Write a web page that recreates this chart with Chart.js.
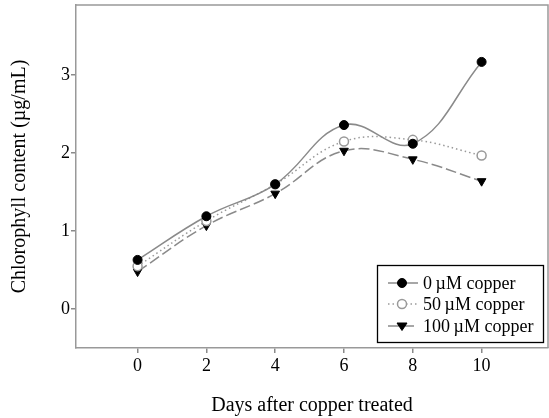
<!DOCTYPE html>
<html><head><meta charset="utf-8">
<script src="https://cdn.jsdelivr.net/npm/chart.js@4"></script>
<style>html,body{margin:0;padding:0;background:#fff}#wrap{width:549px;height:418px}</style>
</head><body><div id="wrap"><canvas id="c"></canvas></div>
<script>
const days = [0, 2, 4, 6, 8, 10];
const copper0 = [0.63, 1.19, 1.60, 2.36, 2.12, 3.17];
const copper50 = [0.55, 1.13, 1.60, 2.15, 2.17, 1.97];
const copper100 = [0.48, 1.07, 1.48, 2.03, 1.92, 1.64];
const seriesNames = ['0\u2009\u00b5M copper', '50\u2009\u00b5M copper', '100\u2009\u00b5M copper'];
const xTicks = [0, 2, 4, 6, 8, 10];
const yTicks = [0, 1, 2, 3];

const FONT = '"Liberation Serif", "Times New Roman", serif';
const GRAY = '#8a8a8a';

function pts(vals){ return days.map((d,i)=>({x:d,y:vals[i]})); }

const framePlugin = {
  id:'frame',
  beforeDatasetsDraw(chart){
    const {ctx, chartArea:a} = chart;
    ctx.save();
    ctx.strokeStyle = '#999';
    ctx.lineWidth = 1.5;
    ctx.beginPath();
    ctx.moveTo(a.left, a.top); ctx.lineTo(a.right, a.top); ctx.lineTo(a.right, a.bottom);
    ctx.stroke();
    ctx.restore();
  }
};

const legendPlugin = {
  id:'boxLegend',
  afterDatasetsDraw(chart){
    const ctx = chart.ctx;
    const bx = 377, by = 265, bw = 166, bh = 77;
    ctx.save();
    ctx.fillStyle = '#fff';
    ctx.fillRect(bx, by, bw, bh);
    ctx.strokeStyle = '#000';
    ctx.lineWidth = 1.3;
    ctx.strokeRect(bx+0.5, by+0.5, bw, bh);
    const rows = [283, 304, 326];
    chart.data.datasets.forEach((ds, i) => {
      const y = rows[i];
      ctx.strokeStyle = ds.borderColor;
      ctx.lineWidth = ds.borderWidth;
      ctx.setLineDash(ds.borderDash || []);
      ctx.beginPath(); ctx.moveTo(388, y); ctx.lineTo(418, y); ctx.stroke();
      ctx.setLineDash([]);
      ctx.fillStyle = ds.pointBackgroundColor;
      ctx.strokeStyle = ds.pointBorderColor;
      ctx.lineWidth = ds.pointBorderWidth;
      ctx.beginPath();
      const r = ds.pointRadius;
      if (ds.pointStyle === 'circle') {
        ctx.arc(402, y, r, 0, Math.PI*2);
      } else {
        ctx.moveTo(402 - r, y - r*0.6); ctx.lineTo(402 + r, y - r*0.6); ctx.lineTo(402, y + r*0.9); ctx.closePath();
      }
      ctx.fill(); ctx.stroke();
      ctx.fillStyle = '#000';
      ctx.font = '18px ' + FONT;
      ctx.textBaseline = 'middle';
      ctx.textAlign = 'left';
      ctx.fillText(ds.label, 423, y + 1);
    });
    ctx.restore();
  }
};

new Chart(document.getElementById('c'), {
  type:'line',
  data:{
    datasets:[
      {label:seriesNames[0], data:pts(copper0), borderColor:GRAY, borderWidth:1.5, tension:0.4,
       pointStyle:'circle', pointRadius:4.5, pointBackgroundColor:'#000', pointBorderColor:'#000', pointBorderWidth:1},
      {label:seriesNames[1], data:pts(copper50), borderColor:'#9a9a9a', borderWidth:1.5, borderDash:[1.5,3], tension:0.4,
       pointStyle:'circle', pointRadius:4.5, pointBackgroundColor:'#fff', pointBorderColor:'#999', pointBorderWidth:1.5},
      {label:seriesNames[2], data:pts(copper100), borderColor:GRAY, borderWidth:1.5, borderDash:[11,4], tension:0.4,
       pointStyle:'triangle', pointRotation:180, pointRadius:5, pointBackgroundColor:'#000', pointBorderColor:'#000', pointBorderWidth:1}
    ]
  },
  options:{
    responsive:true, maintainAspectRatio:false, animation:false,
    layout:{autoPadding:false, padding:{left:0, top:5, right:1, bottom:0}},
    plugins:{legend:{display:false}, tooltip:{enabled:false}},
    scales:{
      x:{type:'linear', min:-1.79, max:11.93,
        afterBuildTicks(s){ s.ticks = xTicks.map(v=>({value:v})); },
        afterFit(s){ s.height = 70; s.paddingLeft = 0; s.paddingRight = 0; },
        grid:{drawOnChartArea:false, drawTicks:true, tickLength:5, color:GRAY, lineWidth:1.5},
        border:{color:'#999', width:1.5},
        ticks:{color:'#000', font:{family:FONT, size:18}, padding:2, maxRotation:0},
        title:{display:true, text:'Days after copper treated', color:'#000', font:{family:FONT, size:20}, padding:{top:0,bottom:0}}
      },
      y:{type:'linear', min:-0.5, max:3.9,
        afterBuildTicks(s){ s.ticks = yTicks.map(v=>({value:v})); },
        afterFit(s){ s.width = 76; s.paddingTop = 0; s.paddingBottom = 0; },
        grid:{drawOnChartArea:false, drawTicks:true, tickLength:5, color:GRAY, lineWidth:1.5},
        border:{color:'#999', width:1.5},
        ticks:{color:'#000', font:{family:FONT, size:18}, padding:1},
        title:{display:true, text:'Chlorophyll content (\u00b5g/mL)', color:'#000', font:{family:FONT, size:20}, padding:{top:8,bottom:0}}
      }
    }
  },
  plugins:[framePlugin, legendPlugin]
});
</script></body></html>
